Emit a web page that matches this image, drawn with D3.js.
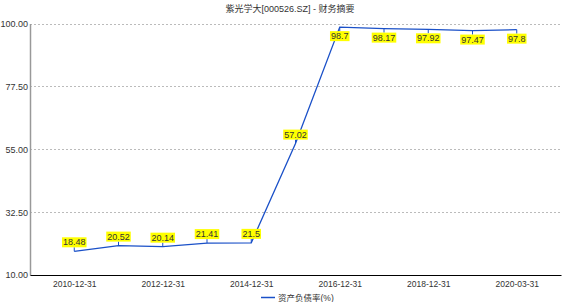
<!DOCTYPE html>
<html lang="zh">
<head>
  <meta charset="UTF-8">
  <title>紫光学大 财务摘要</title>
  <script src="https://d3js.org/d3.v7.min.js"></script>
  <style>
    body { margin: 0; background: #fff; }
    text { font-family: "Liberation Sans", "Noto Sans CJK SC", sans-serif; fill: #333; }
    .grid line { stroke: #bbb; stroke-dasharray: 2,2; }
  </style>
</head>
<body>
<svg width="580" height="302"></svg>
<script>
  const svg = d3.select("svg");

  // categories (report dates) and debt-to-asset ratio values
  const dates = ["2010-12-31", "2011-12-31", "2012-12-31", "2013-12-31", "2014-12-31",
                 "2015-12-31", "2016-12-31", "2017-12-31", "2018-12-31", "2019-12-31", "2020-03-31"];
  const ratio = [18.48, 20.52, 20.14, 21.41, 21.5, 57.02, 98.7, 98.17, 97.92, 97.47, 97.8];
  const yTicks = [10, 32.5, 55, 77.5, 100];
  const xTickLabels = ["2010-12-31", "2012-12-31", "2014-12-31", "2016-12-31", "2018-12-31", "2020-03-31"];

  const plotL = 30, plotR = 561, plotT = 23.5, plotB = 275;

  const x = d3.scalePoint().domain(dates).range([plotL, plotR]).padding(1);
  const y = d3.scaleLinear().domain([10, 100]).range([plotB, plotT]);

  // title
  svg.append("text")
    .attr("x", 290).attr("y", 12)
    .attr("text-anchor", "middle")
    .style("font-size", "9px")
    .text("紫光学大[000526.SZ] - 财务摘要");

  // dashed grid
  svg.append("g").attr("class", "grid")
    .selectAll("line")
    .data(yTicks.filter(d => d > 10))
    .enter().append("line")
      .attr("x1", plotL).attr("x2", plotR)
      .attr("y1", d => Math.round(y(d)) + 0.5)
      .attr("y2", d => Math.round(y(d)) + 0.5);

  // y axis
  const yAxis = svg.append("g")
    .attr("transform", `translate(${plotL},0)`)
    .call(d3.axisLeft(y).tickValues(yTicks).tickFormat(d3.format(".2f")).tickSize(0).tickPadding(2));
  yAxis.select(".domain").attr("stroke", "#999").attr("stroke-width", 1.5);
  yAxis.selectAll("text").style("font-size", "9px").attr("fill", "#333").attr("font-family", null);

  // x axis
  const xAxis = svg.append("g")
    .attr("transform", `translate(0,${plotB})`)
    .call(d3.axisBottom(x).tickValues(xTickLabels).tickSize(0).tickPadding(6));
  xAxis.select(".domain").attr("stroke", "#000").attr("stroke-width", 1.2);
  xAxis.selectAll("text").style("font-size", "8.5px").attr("fill", "#333").attr("font-family", null);

  const pts = dates.map((d, i) => ({ date: d, v: ratio[i] }));

  // line
  svg.append("path")
    .datum(pts)
    .attr("fill", "none")
    .attr("stroke", "#1a50c8")
    .attr("stroke-width", 1.3)
    .attr("d", d3.line().x(d => x(d.date)).y(d => y(d.v)));

  // labels: above point for low values, below point for high values
  const lab = svg.append("g").selectAll("g")
    .data(pts)
    .enter().append("g")
      .attr("transform", d => `translate(${x(d.date)},${y(d.v)})`);

  lab.append("line")
    .attr("x1", 0).attr("x2", 0)
    .attr("y1", 0)
    .attr("y2", d => d.v > 90 ? 4 : -4)
    .attr("stroke", "#1a50c8")
    .attr("stroke-width", 1);

  lab.each(function(d) {
    const g = d3.select(this);
    const cy = d.v > 90 ? 9 : -9;
    const t = g.append("text")
      .attr("x", 0).attr("y", cy + 3)
      .attr("text-anchor", "middle")
      .style("font-size", "9px")
      .attr("fill", "#000")
      .text(d.v);
    const bb = t.node().getBBox();
    g.insert("rect", "text")
      .attr("x", bb.x - 1).attr("y", cy - 5)
      .attr("width", bb.width + 2).attr("height", 10)
      .attr("fill", "#ffff00");
  });

  // legend
  svg.append("line")
    .attr("x1", 261).attr("x2", 275)
    .attr("y1", 297.5).attr("y2", 297.5)
    .attr("stroke", "#1a50c8").attr("stroke-width", 1.5);
  svg.append("text")
    .attr("x", 278).attr("y", 300.5)
    .style("font-size", "8.5px")
    .text("资产负债率(%)");
</script>
</body>
</html>
